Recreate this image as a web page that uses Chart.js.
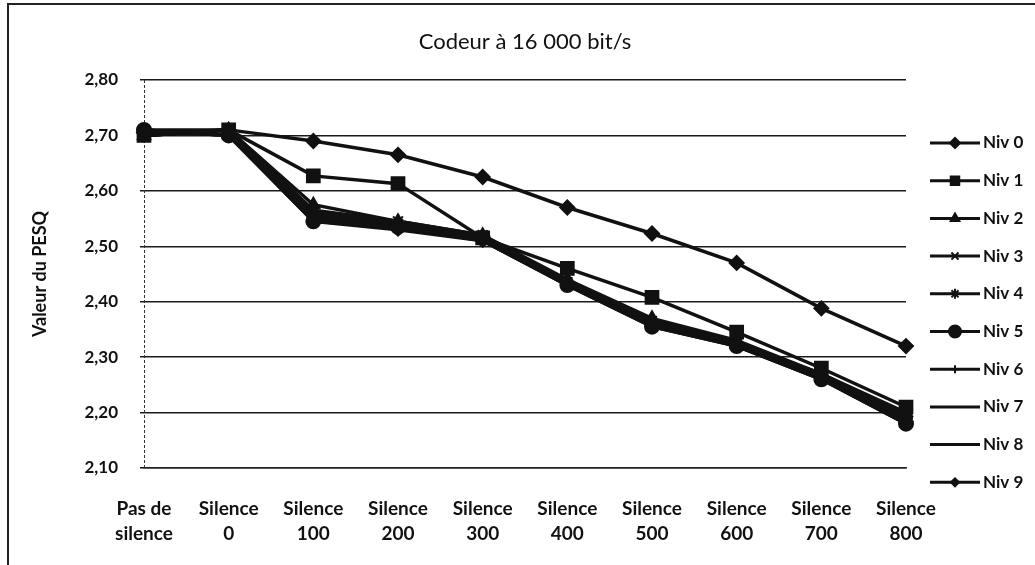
<!DOCTYPE html>
<html lang="fr">
<head>
<meta charset="utf-8">
<title>Codeur à 16 000 bit/s</title>
<script src="https://cdn.jsdelivr.net/npm/chart.js@4/dist/chart.umd.min.js"></script>
<style>
  html, body { margin: 0; padding: 0; background: #fff; }
  #wrap { position: relative; width: 1035px; height: 565px; }
  canvas { display: block; }
</style>
</head>
<body>
<div id="wrap"><canvas id="pesqChart" width="1035" height="565"></canvas></div>
<script>
// Valeurs PESQ par niveau, codeur 16 kbit/s
const chartTitle = 'Codeur à 16 000 bit/s';
const categories = [
    ['Pas de', 'silence'], ['Silence', '0'], ['Silence', '100'], ['Silence', '200'],
    ['Silence', '300'], ['Silence', '400'], ['Silence', '500'], ['Silence', '600'],
    ['Silence', '700'], ['Silence', '800']
];
const yTicks = [2.10, 2.20, 2.30, 2.40, 2.50, 2.60, 2.70, 2.80];

const niv0 = [2.705, 2.710, 2.690, 2.665, 2.625, 2.570, 2.523, 2.470, 2.388, 2.320];
const niv1 = [2.700, 2.710, 2.627, 2.613, 2.515, 2.460, 2.408, 2.345, 2.280, 2.210];
const niv2 = [2.700, 2.710, 2.575, 2.545, 2.520, 2.440, 2.370, 2.330, 2.270, 2.200];
const niv3 = [2.700, 2.710, 2.565, 2.545, 2.520, 2.435, 2.365, 2.325, 2.270, 2.190];
const niv4 = [2.710, 2.710, 2.560, 2.540, 2.515, 2.435, 2.360, 2.325, 2.265, 2.190];
const niv5 = [2.710, 2.700, 2.545, 2.535, 2.515, 2.430, 2.355, 2.320, 2.260, 2.180];
const niv6 = [2.700, 2.710, 2.550, 2.535, 2.515, 2.435, 2.360, 2.320, 2.265, 2.185];
const niv7 = [2.710, 2.700, 2.555, 2.540, 2.515, 2.435, 2.365, 2.325, 2.270, 2.195];
const niv8 = [2.700, 2.710, 2.550, 2.535, 2.510, 2.430, 2.360, 2.320, 2.265, 2.190];
const niv9 = [2.710, 2.700, 2.545, 2.530, 2.510, 2.430, 2.355, 2.320, 2.260, 2.180];

const seriesNames = ['Niv 0', 'Niv 1', 'Niv 2', 'Niv 3', 'Niv 4', 'Niv 5', 'Niv 6', 'Niv 7', 'Niv 8', 'Niv 9'];
const seriesValues = [niv0, niv1, niv2, niv3, niv4, niv5, niv6, niv7, niv8, niv9];

// style des marqueurs : [forme, rayon dans le graphe, rayon dans la légende]
const markers = [
    ['rectRot', 7, 5], ['rect', 9, 6], ['triangle', 7, 5], ['crossRot', 7, 5], ['star', 7, 5],
    ['circle', 7, 6], ['cross', 7, 4], [false, 0, 0], [false, 0, 0], ['rectRot', 6, 4]
];

const FONT = 'Lato, Calibri, "Open Sans", sans-serif';
const INK = '#111';

const datasets = seriesNames.map((name, i) => ({
    label: name,
    data: seriesValues[i],
    borderColor: INK,
    backgroundColor: INK,
    borderWidth: 3.5,
    pointStyle: markers[i][0],
    pointRadius: markers[i][1],
    pointBorderWidth: 2,
    pointBorderColor: INK,
    pointBackgroundColor: INK,
    tension: 0
}));

// titre centré sur la zone de tracé + axe vertical en pointillés
const plotDecor = {
    id: 'plotDecor',
    beforeDatasetsDraw(chart) {
        const { ctx, chartArea } = chart;
        ctx.save();
        ctx.strokeStyle = '#333';
        ctx.lineWidth = 1;
        ctx.setLineDash([3, 2]);
        ctx.beginPath();
        ctx.moveTo(chartArea.left + 0.5, chartArea.top);
        ctx.lineTo(chartArea.left + 0.5, chartArea.bottom);
        ctx.stroke();
        ctx.restore();
    },
    afterDraw(chart) {
        const { ctx, chartArea } = chart;
        ctx.save();
        ctx.fillStyle = INK;
        ctx.font = '22px ' + FONT;
        ctx.textAlign = 'center';
        ctx.textBaseline = 'middle';
        ctx.fillText(chartTitle, (chartArea.left + chartArea.right) / 2, 42);
        ctx.restore();
    }
};

// légende verticale : trait + marqueur + texte
const sideLegend = {
    id: 'sideLegend',
    afterDraw(chart) {
        const ctx = chart.ctx;
        const x0 = 930, x1 = 980, top = 143, step = 37.7;
        ctx.save();
        chart.data.datasets.forEach((ds, i) => {
            const y = top + i * step;
            ctx.strokeStyle = INK;
            ctx.lineWidth = 3;
            ctx.beginPath();
            ctx.moveTo(x0, y);
            ctx.lineTo(x1, y);
            ctx.stroke();
            if (ds.pointStyle) {
                ctx.fillStyle = INK;
                ctx.strokeStyle = INK;
                ctx.lineWidth = 2;
                Chart.helpers.drawPoint(ctx, {
                    pointStyle: ds.pointStyle,
                    radius: markers[i][2],
                    rotation: 0,
                    borderWidth: 2
                }, (x0 + x1) / 2, y);
            }
            ctx.fillStyle = INK;
            ctx.font = 'bold 17px ' + FONT;
            ctx.textAlign = 'left';
            ctx.textBaseline = 'middle';
            ctx.fillText(ds.label, x1 + 3, y);
        });
        ctx.restore();
    }
};

// cadre du document (haut et gauche)
const frame = {
    id: 'frame',
    afterDraw(chart) {
        const ctx = chart.ctx;
        ctx.save();
        ctx.strokeStyle = '#222';
        ctx.lineWidth = 2;
        ctx.beginPath();
        ctx.moveTo(8, 565);
        ctx.lineTo(8, 4);
        ctx.lineTo(1035, 4);
        ctx.stroke();
        ctx.restore();
    }
};

new Chart(document.getElementById('pesqChart'), {
    type: 'line',
    data: { labels: categories, datasets: datasets },
    plugins: [plotDecor, sideLegend, frame],
    options: {
        responsive: false,
        animation: false,
        layout: { padding: { left: 25, right: 129, top: 80, bottom: 0 } },
        plugins: {
            legend: { display: false },
            tooltip: { enabled: false },
            title: { display: false }
        },
        scales: {
            x: {
                grid: { display: false, drawTicks: false },
                border: { display: true, color: '#222', width: 1.5 },
                ticks: {
                    color: INK,
                    maxRotation: 0,
                    autoSkip: false,
                    padding: 28,
                    font: { family: FONT, size: 19, weight: 'bold', lineHeight: '25px' }
                },
                afterFit: (scale) => { scale.height = 97; }
            },
            y: {
                min: yTicks[0],
                max: yTicks[yTicks.length - 1],
                afterBuildTicks: (scale) => { scale.ticks = yTicks.map(v => ({ value: v })); },
                grid: { color: '#1a1a1a', lineWidth: 1.5, drawTicks: true, tickLength: 4 },
                border: { display: false },
                ticks: {
                    color: INK,
                    padding: 22,
                    font: { family: FONT, size: 17, weight: 'bold' },
                    callback: (v) => Number(v).toFixed(2).replace('.', ',')
                },
                title: {
                    display: true,
                    text: 'Valeur du PESQ',
                    color: INK,
                    font: { family: FONT, size: 18, weight: 'bold' },
                    padding: { top: 4, bottom: 0 }
                },
                afterFit: (scale) => { scale.width = 119; }
            }
        }
    }
});
</script>
</body>
</html>
